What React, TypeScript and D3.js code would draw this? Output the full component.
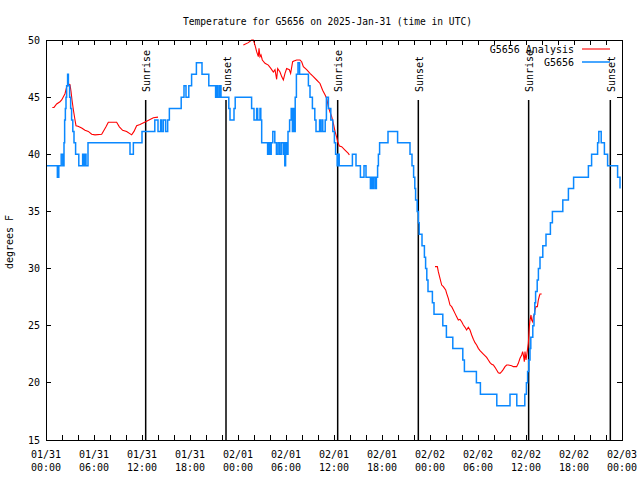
import React from "react";
import * as d3 from "d3";

// ---- data (hours since 2025-01-31 00:00 UTC, temperature °F) ----
const observed: [number, number][] = [
  [0, 39], [1.42, 38], [1.6, 39], [1.9, 40], [2.1, 39], [2.25, 41], [2.33, 43], [2.42, 44], [2.5, 45],
  [2.58, 46], [2.7, 47], [2.8, 46], [2.95, 45], [3.08, 44], [3.2, 43], [3.35, 42], [3.5, 41], [3.7, 40],
  [4.1, 39], [4.58, 40], [4.75, 39], [4.875, 40], [5.0, 39], [5.25, 41], [10.5, 40], [10.92, 41], [12.0, 42],
  [13.6, 43], [14.0, 42], [14.33, 43], [14.46, 42], [14.67, 43], [14.96, 42], [15.21, 43], [15.42, 44],
  [16.9, 45], [17.25, 46], [17.5, 45], [17.85, 46], [18.2, 47], [18.8, 48], [19.5, 47], [20.35, 46],
  [21.2, 45], [21.35, 46], [21.5, 45], [21.7, 46], [21.875, 45], [22.85, 44], [23.0, 43], [23.5, 44],
  [23.65, 45], [25.7, 44], [26.0, 43], [26.33, 44], [26.46, 43], [26.75, 44], [26.85, 43], [26.96, 41],
  [27.7, 40], [27.85, 41], [28.0, 40], [28.15, 41], [28.35, 42], [28.6, 41], [28.8, 40], [29.0, 41],
  [29.2, 40], [29.4, 41], [29.65, 40], [29.75, 41], [29.85, 39], [29.95, 41], [30.1, 40], [30.25, 42],
  [30.45, 43], [30.65, 44], [30.8, 42], [30.9, 44], [31.0, 42], [31.15, 45], [31.3, 47], [31.5, 48],
  [31.7, 47], [32.8, 46], [33.0, 45], [33.3, 44], [33.6, 43], [33.75, 42], [34.2, 43], [34.3, 42],
  [34.5, 43], [34.6, 42], [34.9, 43], [35.05, 45], [35.3, 44], [35.6, 43], [35.85, 42], [36.05, 41],
  [36.2, 40], [36.4, 39], [36.55, 40], [36.65, 39], [38.3, 40], [38.75, 39], [39.3, 38], [39.75, 39],
  [40.0, 38], [40.55, 37], [40.7, 38], [40.8, 37], [40.95, 38], [41.15, 37], [41.3, 38], [41.45, 39],
  [41.55, 40], [41.7, 41], [42.75, 42], [43.95, 41], [45.5, 40], [45.75, 39], [45.95, 38], [46.1, 37],
  [46.2, 36], [46.4, 35], [46.55, 34], [46.65, 33], [47.0, 32], [47.3, 31], [47.45, 30], [47.6, 29],
  [47.75, 28], [48.3, 27], [48.5, 26], [49.6, 25], [50.05, 24], [50.85, 23], [52.1, 22], [52.3, 21],
  [53.8, 20], [54.3, 19], [56.35, 18], [58.0, 19], [58.85, 18], [59.85, 19], [60.05, 20], [60.2, 21],
  [60.35, 22], [60.5, 23], [60.6, 24], [60.85, 25], [61.0, 26], [61.1, 27], [61.2, 28], [61.4, 29],
  [61.55, 30], [61.75, 31], [62.1, 32], [62.5, 33], [63.05, 34], [63.3, 35], [64.6, 36], [65.3, 37],
  [65.95, 38], [67.8, 39], [68.2, 40], [68.95, 41], [69.1, 42], [69.4, 41], [69.8, 40], [70.2, 39],
  [71.45, 38], [71.75, 37],
];

const analysisDay1: [number, number][] = [
  [0.79, 44.1], [1.0, 44.1], [1.33, 44.4], [1.75, 44.6], [1.96, 44.75], [2.375, 45.3], [2.58, 45.9],
  [2.79, 46.15], [3.0, 46.1], [3.125, 45.5], [3.25, 44.75], [3.42, 43.9], [3.625, 43.0], [3.75, 42.5],
  [4.0, 42.45], [4.46, 42.3], [4.875, 42.1], [5.29, 42.0], [5.71, 41.75], [6.125, 41.7], [6.96, 41.75],
  [7.25, 42.1], [7.5, 42.4], [7.79, 42.8], [8.83, 42.8], [9.17, 42.4], [9.58, 42.1], [10.08, 42.0],
  [10.71, 41.7], [11.0, 42.0], [11.33, 42.5], [11.75, 42.6], [12.58, 42.9], [13.42, 43.2], [14.0, 43.25],
];

const analysisDay2: [number, number][] = [
  [24.67, 49.56], [25.29, 49.77], [25.71, 50.0], [25.92, 50.0], [26.125, 49.56], [26.33, 48.98],
  [26.54, 48.54], [26.625, 49.27], [26.75, 48.54], [26.875, 48.69], [27.04, 48.25], [27.375, 47.96],
  [27.79, 47.8], [28.125, 47.5], [28.42, 47.2], [28.625, 47.4], [28.83, 46.56], [28.96, 47.5],
  [29.25, 47.2], [29.46, 46.8], [29.67, 46.5], [29.875, 47.08], [30.08, 47.5], [30.42, 47.4],
  [30.58, 47.08], [30.83, 48.1], [31.0, 48.16], [31.33, 48.25], [31.75, 48.25], [31.96, 48.1],
  [32.17, 47.67], [32.58, 47.4], [33.0, 47.08], [33.42, 46.8], [33.83, 46.5], [34.25, 46.2],
  [34.58, 45.6], [34.875, 45.2], [35.08, 44.9], [35.29, 44.17], [35.5, 43.7], [35.71, 43.3],
  [35.92, 42.7], [36.125, 42.0], [36.33, 41.5], [36.46, 41.1], [36.67, 40.72], [36.96, 40.67],
  [37.375, 40.37], [37.79, 40.08], [37.92, 39.94],
];

const analysisDay3: [number, number][] = [
  [48.625, 30.17], [48.92, 30.17], [49.04, 29.73], [49.25, 29.15], [49.46, 28.56], [49.67, 28.42],
  [49.96, 28.13], [50.08, 27.83], [50.29, 27.4], [50.5, 26.81], [50.71, 26.67], [50.92, 26.38],
  [51.125, 26.08], [51.33, 25.79], [51.54, 25.5], [51.75, 25.56], [51.96, 25.35], [52.17, 25.06],
  [52.375, 24.86], [52.58, 24.62], [52.79, 24.86], [53.0, 24.62], [53.21, 24.19], [53.42, 23.81],
  [53.625, 23.52], [53.83, 23.31], [54.04, 23.02], [54.25, 22.82], [54.67, 22.52], [55.08, 22.23],
  [55.29, 22.0], [55.5, 21.77], [55.71, 21.62], [55.92, 21.56], [56.125, 21.36], [56.33, 21.125],
  [56.54, 20.89], [56.75, 20.83], [56.96, 20.98], [57.17, 21.18], [57.375, 21.42], [57.58, 21.56],
  [57.79, 21.56], [58.21, 21.5], [58.42, 21.42], [58.83, 21.42], [59.04, 21.71], [59.25, 22.15],
  [59.46, 22.44], [59.58, 22.73], [59.71, 22.29], [59.79, 21.85], [59.875, 22.73], [60.0, 22.0],
  [60.17, 22.82], [60.29, 23.46], [60.42, 24.92], [60.5, 25.5], [60.625, 25.94], [60.71, 25.5],
  [60.83, 25.35], [60.92, 25.79], [61.04, 25.94], [61.125, 26.38], [61.25, 26.67], [61.42, 26.67],
  [61.54, 27.25], [61.67, 27.6], [61.75, 27.78], [61.96, 27.78],
];

const sunHours = [12.46, 22.5, 36.46, 46.54, 60.33, 70.54];
const sunLabels = ["Sunrise", "Sunset", "Sunrise", "Sunset", "Sunrise", "Sunset"];

const xTickDates = ["01/31", "01/31", "01/31", "01/31", "02/01", "02/01", "02/01", "02/01", "02/02", "02/02", "02/02", "02/02", "02/03"];
const xTickTimes = ["00:00", "06:00", "12:00", "18:00", "00:00", "06:00", "12:00", "18:00", "00:00", "06:00", "12:00", "18:00", "00:00"];
const yTicks = [15, 20, 25, 30, 35, 40, 45, 50];

const TITLE = "Temperature for G5656 on 2025-Jan-31 (time in UTC)";
const Y_LABEL = "degrees F";
const LEGEND = ["G5656 Analysis", "G5656"];

const RED = "#ff0000";
const BLUE = "#0a88ff";
const FONT = "'DejaVu Sans Mono', 'Liberation Mono', monospace";

export default function App() {
  const left = 46, right = 622, top = 40, bottom = 440;
  const x = d3.scaleLinear().domain([0, 72]).range([left, right]);
  const y = d3.scaleLinear().domain([15, 50]).range([bottom, top]);

  const stepLine = d3.line<[number, number]>().x(d => x(d[0])).y(d => y(d[1])).curve(d3.curveStepAfter);
  const line = d3.line<[number, number]>().x(d => x(d[0])).y(d => y(d[1]));

  const minorX = d3.range(0, 73, 2);
  const majorX = d3.range(0, 73, 6);
  const tickLen = 5;

  return (
    <svg width={640} height={480} style={{ position: "absolute", left: 0, top: 0, background: "#fff" }}
      fontFamily={FONT} fontSize={10}>
      <rect x={0} y={0} width={640} height={480} fill="#fff" />
      {/* title */}
      <text x={183} y={25} textLength={289} lengthAdjust="spacingAndGlyphs" fill="#000">{TITLE}</text>
      {/* y label */}
      <text transform={`translate(13,242) rotate(-90)`} textAnchor="middle" fill="#000">{Y_LABEL}</text>

      {/* ticks */}
      <g stroke="#000" strokeWidth={1} shapeRendering="crispEdges">
        {minorX.map(h => (
          <g key={"xt" + h}>
            <line x1={x(h)} x2={x(h)} y1={bottom} y2={bottom - tickLen} />
            <line x1={x(h)} x2={x(h)} y1={top} y2={top + tickLen} />
          </g>
        ))}
        {yTicks.map(v => (
          <g key={"yt" + v}>
            <line x1={left} x2={left + tickLen} y1={y(v)} y2={y(v)} />
            <line x1={right} x2={right - tickLen} y1={y(v)} y2={y(v)} />
          </g>
        ))}
      </g>

      {/* tick labels */}
      {yTicks.map(v => (
        <text key={"yl" + v} x={40} y={y(v) + 3.5} textAnchor="end" fill="#000">{v}</text>
      ))}
      {majorX.map((h, i) => (
        <g key={"xl" + h}>
          <text x={x(h)} y={458} textAnchor="middle" fill="#000">{xTickDates[i]}</text>
          <text x={x(h)} y={471} textAnchor="middle" fill="#000">{xTickTimes[i]}</text>
        </g>
      ))}

      {/* sunrise / sunset */}
      {sunHours.map((h, i) => (
        <g key={"sun" + i}>
          <line x1={x(h)} x2={x(h)} y1={100} y2={bottom} stroke="#000" strokeWidth={1.5} />
          <text transform={`translate(${x(h) + 4.5},92) rotate(-90)`} fill="#000">{sunLabels[i]}</text>
        </g>
      ))}

      {/* series */}
      {[analysisDay1, analysisDay2, analysisDay3].map((seg, i) => (
        <path key={"an" + i} d={line(seg) || ""} fill="none" stroke={RED} strokeWidth={1.1} />
      ))}
      <path d={stepLine(observed) || ""} fill="none" stroke={BLUE} strokeWidth={1.5} />

      {/* border */}
      <rect x={left} y={top} width={right - left} height={bottom - top} fill="none" stroke="#000" strokeWidth={1} shapeRendering="crispEdges" />

      {/* legend */}
      <text x={574} y={52.5} textAnchor="end" fill="#000">{LEGEND[0]}</text>
      <line x1={582} x2={610} y1={49} y2={49} stroke={RED} strokeWidth={1.1} />
      <text x={574} y={65.5} textAnchor="end" fill="#000">{LEGEND[1]}</text>
      <line x1={582} x2={610} y1={62} y2={62} stroke={BLUE} strokeWidth={1.5} />
    </svg>
  );
}
